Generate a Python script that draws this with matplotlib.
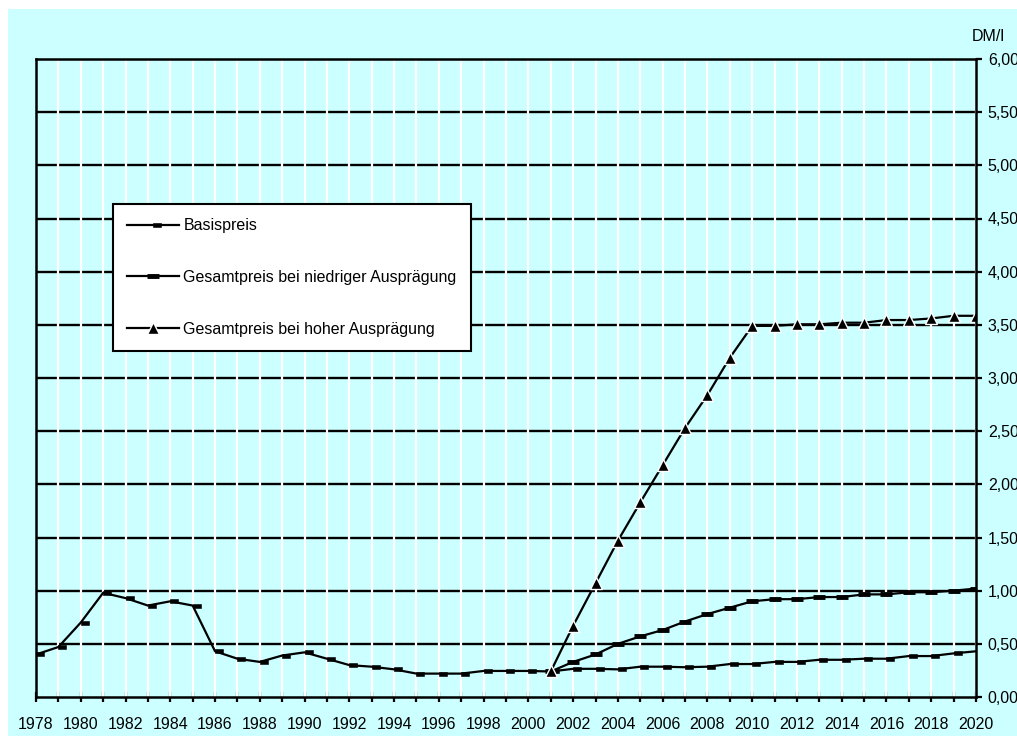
import matplotlib.pyplot as plt
from matplotlib.patches import Rectangle
from matplotlib.ticker import FuncFormatter, MultipleLocator

plt.rcParams['font.family'] = ['Liberation Sans', 'DejaVu Sans']

years = list(range(1978, 2021))

basispreis = [0.40, 0.47, 0.70, 0.98, 0.93, 0.86, 0.90, 0.86, 0.43, 0.36,
              0.33, 0.39, 0.42, 0.36, 0.30, 0.285, 0.26, 0.22, 0.22, 0.22,
              0.245, 0.245, 0.245, 0.24, 0.265, 0.265, 0.26, 0.285, 0.285, 0.28,
              0.285, 0.31, 0.31, 0.33, 0.33, 0.35, 0.35, 0.36, 0.36, 0.385,
              0.385, 0.41, 0.43]

years_2001 = list(range(2001, 2021))
preis_niedrig = [0.24, 0.33, 0.40, 0.50, 0.57, 0.63, 0.71, 0.78, 0.84, 0.90,
                 0.92, 0.92, 0.94, 0.94, 0.965, 0.965, 0.985, 0.985, 1.00, 1.02]
preis_hoch = [0.24, 0.67, 1.07, 1.47, 1.83, 2.18, 2.53, 2.84, 3.19, 3.49,
              3.49, 3.505, 3.505, 3.52, 3.52, 3.545, 3.545, 3.56, 3.585, 3.585]

W, H = 1017, 736
fig = plt.figure(figsize=(W / 100, H / 100), dpi=100, facecolor='white')
cyan = '#ccffff'
fig.patches.append(Rectangle((8 / W, 0), 1, 1 - 9 / H, transform=fig.transFigure,
                             facecolor=cyan, edgecolor='none', zorder=-5))

ax = fig.add_axes([36 / W, 1 - 697 / H, 940 / W, 638 / H])
ax.set_zorder(2)
ax.set_facecolor(cyan)

# black horizontals, cut by the white yearly verticals drawn over them
for v in [0.5 * i for i in range(1, 12)]:
    ax.axhline(v, color='black', lw=1.7, zorder=1)
for y in years:
    ax.axvline(y, color='white', lw=1.6, zorder=2)

# small dash that sits just right of the data point
dash_right = [(0, -0.2), (1, -0.2), (1, 0.2), (0, 0.2), (0, -0.2)]

ax.plot(years, basispreis, color='black', lw=1.6, marker=dash_right, ms=11.5,
        mfc='black', mec='black', mew=0.4, label='Basispreis', zorder=3)
ax.plot(years_2001, preis_niedrig, color='black', lw=1.6, marker='_', ms=9, mew=3.5,
        label='Gesamtpreis bei niedriger Ausprägung', zorder=3)
ax.plot(years_2001, preis_hoch, color='black', lw=1.6, marker='^', ms=9,
        mfc='black', mec='white', mew=1.0,
        label='Gesamtpreis bei hoher Ausprägung', zorder=4)

ax.set_xlim(1978, 2020)
ax.set_ylim(0, 6)

ax.xaxis.set_major_locator(MultipleLocator(2))
ax.xaxis.set_minor_locator(MultipleLocator(1))
ax.tick_params(axis='x', which='both', direction='inout', length=7, width=1.6,
               labelsize=11.5, pad=11)

ax.yaxis.tick_right()
ax.yaxis.set_major_locator(MultipleLocator(0.5))
ax.yaxis.set_major_formatter(FuncFormatter(lambda v, p: f'{v:.2f}'.replace('.', ',')))
ax.tick_params(axis='y', direction='out', length=4, width=1.6, labelsize=11.5, pad=4.5)

for s in ax.spines.values():
    s.set_linewidth(1.8)
    s.set_zorder(5)

ax.text(0.9957, 1.0345, 'DM/l', transform=ax.transAxes, ha='left', va='center',
        fontsize=11.5)

leg = ax.legend(loc='upper left', bbox_to_anchor=(0.082, 0.773), fontsize=11.5,
                frameon=True, fancybox=False, framealpha=1, edgecolor='black',
                handlelength=3.2, handletextpad=0.3, labelspacing=2.3,
                borderpad=0.9, borderaxespad=0)
leg.get_frame().set_linewidth(1.5)
leg.set_zorder(6)

fig.savefig('out.png', dpi=100, facecolor='white')
